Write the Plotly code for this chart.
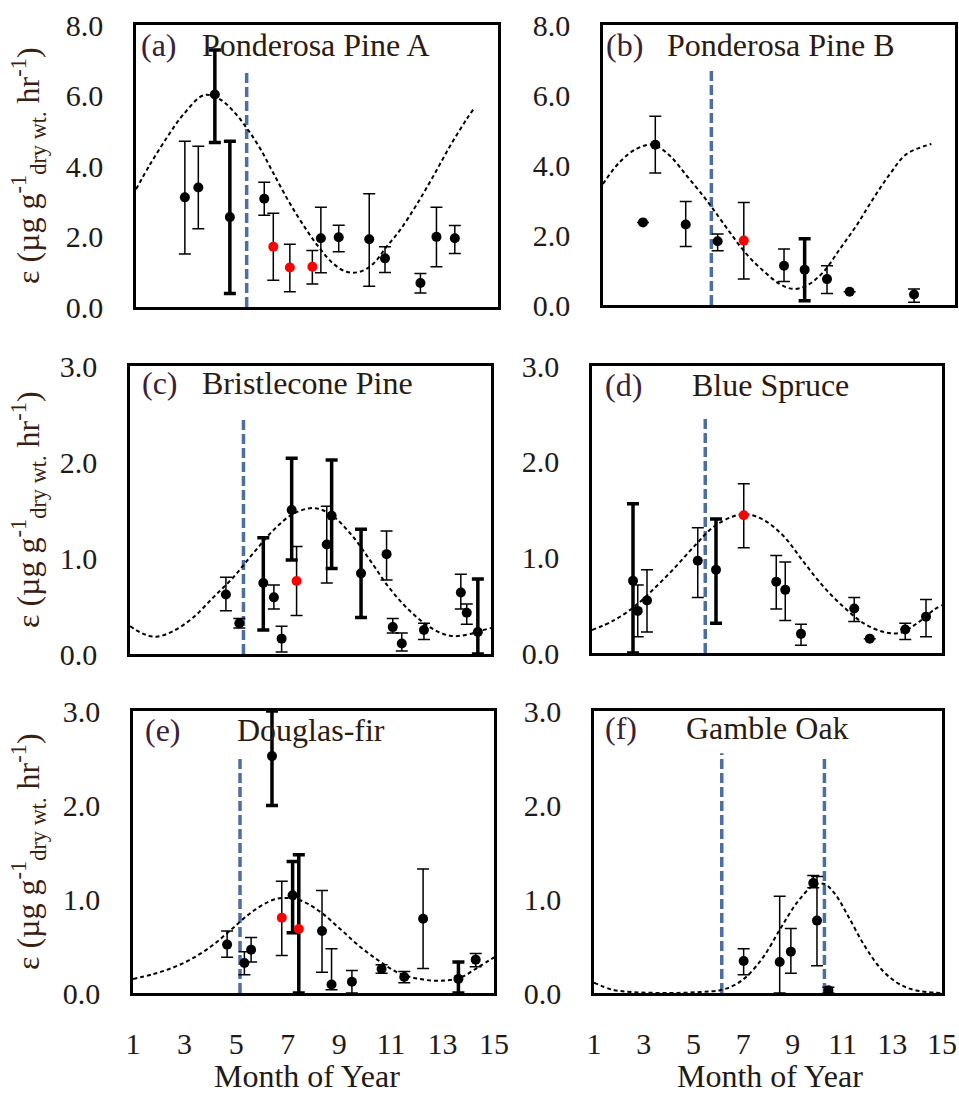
import plotly.graph_objects as go

# ---------------- DATA ----------------
# Panel (a) Ponderosa Pine A
A_MONTH = [2.89, 3.41, 4.05, 4.63, 5.96, 6.31, 6.95, 7.82, 8.15, 8.84, 10.02, 10.63, 12.00, 12.62, 13.33]
A_EPS   = [3.11, 3.39, 6.03, 2.55, 3.07, 1.71, 1.12, 1.14, 1.95, 1.98, 1.92, 1.38, 0.68, 1.99, 1.95]
A_HI    = [4.70, 4.56, 7.29, 4.70, 3.54, 2.66, 1.78, 1.60, 2.83, 2.32, 3.21, 1.71, 0.95, 2.83, 2.31]
A_LO    = [1.50, 2.22, 4.67, 0.38, 2.60, 0.76, 0.43, 0.65, 0.97, 1.57, 0.59, 0.98, 0.40, 1.14, 1.52]
A_RED   = [5, 6, 7]
A_CURVE_X = [1.0, 1.54, 2.19, 2.83, 3.63, 4.25, 4.76, 5.28, 5.79, 6.31, 6.95, 7.60, 8.11, 8.63, 9.14,
             9.66, 10.18, 10.69, 11.21, 11.85, 12.49, 13.14, 13.78, 14.04]
A_CURVE_Y = [3.34, 4.04, 4.80, 5.46, 6.01, 5.89, 5.56, 5.08, 4.51, 3.80, 2.94, 2.18, 1.66, 1.23, 1.00,
             1.00, 1.23, 1.71, 2.18, 2.90, 3.70, 4.56, 5.32, 5.60]
A_VLINE_X = [5.28]
A_VLINE_TOP = [6.65]

# Panel (b) Ponderosa Pine B
B_MONTH = [2.59, 3.08, 4.29, 5.56, 6.60, 8.20, 9.02, 9.91, 10.81, 13.37]
B_EPS   = [2.36, 4.58, 2.30, 1.82, 1.84, 1.12, 1.01, 0.74, 0.38, 0.30]
B_HI    = [2.36, 5.39, 2.96, 2.03, 2.93, 1.60, 1.89, 1.12, 0.38, 0.46]
B_LO    = [2.36, 3.77, 1.67, 1.55, 0.74, 0.67, 0.12, 0.33, 0.38, 0.08]
B_RED   = [4]
B_CURVE_X = [1.0, 1.66, 2.33, 2.99, 3.65, 4.32, 4.98, 5.38, 6.04, 6.70, 7.37, 8.03, 8.56, 9.09, 9.75,
             10.42, 11.08, 11.74, 12.41, 13.07, 14.06]
B_CURVE_Y = [3.46, 4.08, 4.46, 4.58, 4.27, 3.70, 3.12, 2.74, 2.08, 1.46, 0.98, 0.60, 0.46, 0.55, 0.93,
             1.60, 2.27, 3.03, 3.74, 4.31, 4.60]
B_VLINE_X = [5.31]
B_VLINE_TOP = [6.74]

# Panel (c) Bristlecone Pine
C_MONTH = [4.72, 5.24, 6.17, 6.58, 6.88, 7.27, 7.46, 8.63, 8.82, 9.96, 10.95, 11.19, 11.54, 12.40, 13.83, 14.06, 14.49]
C_EPS   = [0.62, 0.32, 0.74, 0.59, 0.16, 1.50, 0.76, 1.14, 1.44, 0.84, 1.04, 0.28, 0.11, 0.25, 0.64, 0.43, 0.23]
C_HI    = [0.80, 0.37, 1.21, 0.72, 0.29, 2.04, 1.12, 1.54, 2.02, 1.30, 1.28, 0.37, 0.22, 0.32, 0.83, 0.52, 0.78]
C_LO    = [0.45, 0.27, 0.25, 0.47, 0.02, 0.98, 0.40, 0.74, 0.89, 0.38, 0.77, 0.22, 0.03, 0.15, 0.47, 0.31, 0.00]
C_RED   = [6]
C_CURVE_X = [1.0, 1.52, 2.03, 2.68, 3.45, 4.23, 5.01, 5.78, 6.56, 7.33, 8.11, 8.75, 9.53, 10.30, 11.08,
             11.85, 12.63, 13.40, 14.05, 14.57, 15.0]
C_CURVE_Y = [0.29, 0.21, 0.18, 0.24, 0.38, 0.59, 0.80, 1.05, 1.29, 1.46, 1.52, 1.46, 1.26, 0.98, 0.68,
             0.45, 0.28, 0.19, 0.20, 0.24, 0.27]
C_VLINE_X = [5.40]
C_VLINE_TOP = [2.44]

# Panel (d) Blue Spruce
D_MONTH = [2.64, 2.83, 3.20, 5.23, 5.96, 7.07, 8.37, 8.73, 9.36, 11.49, 12.11, 13.53, 14.36]
D_EPS   = [0.755, 0.44, 0.55, 0.965, 0.87, 1.44, 0.745, 0.66, 0.20, 0.465, 0.15, 0.245, 0.38]
D_HI    = [1.56, 0.71, 0.87, 1.31, 1.40, 1.77, 1.02, 0.95, 0.30, 0.58, 0.15, 0.31, 0.56]
D_LO    = [0.00, 0.17, 0.22, 0.58, 0.31, 1.10, 0.46, 0.34, 0.08, 0.33, 0.15, 0.14, 0.17]
D_RED   = [5]
D_CURVE_X = [1.0, 1.87, 2.67, 3.47, 4.27, 5.07, 5.87, 6.67, 7.20, 7.87, 8.67, 9.47, 10.27, 11.07, 11.87,
             12.67, 13.33, 14.0, 14.67, 15.0]
D_CURVE_Y = [0.24, 0.34, 0.48, 0.67, 0.88, 1.11, 1.32, 1.43, 1.45, 1.39, 1.22, 0.95, 0.69, 0.48, 0.31,
             0.22, 0.21, 0.31, 0.45, 0.50]
D_VLINE_X = [5.53]
D_VLINE_TOP = [2.47]

# Panel (e) Douglas-fir
E_MONTH = [4.65, 5.32, 5.58, 6.39, 6.77, 7.19, 7.43, 8.33, 8.70, 9.49, 10.64, 11.52, 12.25, 13.62, 14.29]
E_EPS   = [0.515, 0.32, 0.46, 2.52, 0.80, 1.04, 0.68, 0.66, 0.09, 0.12, 0.255, 0.17, 0.79, 0.15, 0.355]
E_HI    = [0.66, 0.44, 0.59, 3.00, 1.19, 1.40, 1.47, 1.09, 0.47, 0.24, 0.30, 0.23, 1.32, 0.33, 0.42]
E_LO    = [0.38, 0.195, 0.33, 1.995, 0.40, 0.64, 0.00, 0.22, 0.035, 0.00, 0.21, 0.11, 0.26, 0.00, 0.28]
E_RED   = [4, 6]
E_CURVE_X = [1.0, 1.77, 2.55, 3.32, 4.10, 4.87, 5.65, 6.42, 6.81, 7.45, 8.23, 9.0, 9.77, 10.55, 11.32,
             12.10, 12.87, 13.65, 14.42, 15.0]
E_CURVE_Y = [0.15, 0.20, 0.27, 0.37, 0.51, 0.69, 0.87, 0.99, 1.01, 0.99, 0.87, 0.69, 0.50, 0.34, 0.21,
             0.15, 0.13, 0.16, 0.28, 0.38]
E_VLINE_X = [5.15]
E_VLINE_TOP = [2.49]

# Panel (f) Gamble Oak
F_MONTH = [7.02, 8.47, 8.92, 9.82, 9.97, 10.43]
F_EPS   = [0.34, 0.33, 0.44, 1.17, 0.77, 0.03]
F_HI    = [0.47, 1.03, 0.685, 1.25, 1.24, 0.06]
F_LO    = [0.195, 0.00, 0.21, 1.12, 0.29, 0.00]
F_RED   = []
F_CURVE_X = [1.0, 1.74, 2.56, 3.91, 5.26, 6.07, 6.62, 7.16, 7.83, 8.51, 9.19, 9.86, 10.27, 10.68, 11.22,
             11.89, 12.57, 13.25, 13.92, 15.0]
F_CURVE_Y = [0.11, 0.035, 0.01, 0.0, 0.01, 0.03, 0.08, 0.18, 0.39, 0.69, 0.97, 1.15, 1.16, 1.06, 0.82,
             0.50, 0.25, 0.10, 0.03, 0.0]
F_VLINE_X = [6.14, 10.27]
F_VLINE_TOP = [2.55, 2.49]

PANEL_TAGS = ["(a)", "(b)", "(c)", "(d)", "(e)", "(f)"]
PANEL_NAMES = ["Ponderosa Pine A", "Ponderosa Pine B", "Bristlecone Pine", "Blue Spruce", "Douglas-fir", "Gamble Oak"]
X_TICKS = [1, 3, 5, 7, 9, 11, 13, 15]
X_TITLE = "Month of Year"
Y_TITLE = "ε (µg g<sup>-1</sup><sub>dry wt.</sub> hr<sup>-1</sup>)"

# ---------------- STYLE / LAYOUT ----------------
W, H = 959, 1097
FONT = "Liberation Serif"
TXT = "#1e1a18"
VCOLOR = "#4a6fa8"

# thick error bars (indices), style only
THICK = {"a": [2, 3], "b": [6], "c": [2, 5, 8, 9, 16], "d": [0, 4], "e": [3, 5, 6, 13], "f": []}

# plot boxes in pixels: (left, top, right, bottom)
BOXES = {
    "a": (136, 25, 498, 307),
    "b": (603, 25, 955, 305),
    "c": (130, 366, 491, 654),
    "d": (592, 366, 942, 653),
    "e": (133, 711, 494, 993),
    "f": (594, 711, 942, 993),
}
YMAX = {"a": 8, "b": 8, "c": 3, "d": 3, "e": 3, "f": 3}
YDT = {"a": 2, "b": 2, "c": 1, "d": 1, "e": 1, "f": 1}

PANELS = {
    "a": (A_MONTH, A_EPS, A_HI, A_LO, A_RED, A_CURVE_X, A_CURVE_Y, A_VLINE_X, A_VLINE_TOP),
    "b": (B_MONTH, B_EPS, B_HI, B_LO, B_RED, B_CURVE_X, B_CURVE_Y, B_VLINE_X, B_VLINE_TOP),
    "c": (C_MONTH, C_EPS, C_HI, C_LO, C_RED, C_CURVE_X, C_CURVE_Y, C_VLINE_X, C_VLINE_TOP),
    "d": (D_MONTH, D_EPS, D_HI, D_LO, D_RED, D_CURVE_X, D_CURVE_Y, D_VLINE_X, D_VLINE_TOP),
    "e": (E_MONTH, E_EPS, E_HI, E_LO, E_RED, E_CURVE_X, E_CURVE_Y, E_VLINE_X, E_VLINE_TOP),
    "f": (F_MONTH, F_EPS, F_HI, F_LO, F_RED, F_CURVE_X, F_CURVE_Y, F_VLINE_X, F_VLINE_TOP),
}

fig = go.Figure()
layout = dict(
    width=W, height=H, autosize=False,
    margin=dict(l=0, r=0, t=0, b=0, autoexpand=False),
    paper_bgcolor="white", plot_bgcolor="white",
    showlegend=False,
    font=dict(family=FONT, color=TXT),
)
annotations = []

for i, key in enumerate(["a", "b", "c", "d", "e", "f"]):
    n = i + 1
    xa = "x" if n == 1 else f"x{n}"
    ya = "y" if n == 1 else f"y{n}"
    xl = "xaxis" if n == 1 else f"xaxis{n}"
    yl = "yaxis" if n == 1 else f"yaxis{n}"
    L, T, R, B = BOXES[key]
    bottom_row = key in ("e", "f")
    layout[xl] = dict(
        domain=[L / W, R / W], anchor=ya, range=[1, 15], automargin=False,
        showline=True, mirror=True, linecolor="black", linewidth=2.5,
        showgrid=False, zeroline=False, ticks="",
        tickmode="array", tickvals=X_TICKS, ticktext=[str(v) for v in X_TICKS],
        showticklabels=bottom_row, tickfont=dict(family=FONT, size=30, color=TXT),
        ticklabelstandoff=22,
    )
    layout[yl] = dict(
        domain=[1 - B / H, 1 - T / H], anchor=xa, range=[0, YMAX[key]], automargin=False,
        showline=True, mirror=True, linecolor="black", linewidth=2.5,
        showgrid=False, zeroline=False, ticks="",
        tick0=0, dtick=YDT[key], tickformat=".1f",
        tickfont=dict(family=FONT, size=30, color=TXT),
        ticklabelstandoff=24,
    )
    mx, my, hi, lo, red, cx, cy, vx, vtop = PANELS[key]

    # vertical dashed lines
    for x0, top in zip(vx, vtop):
        fig.add_trace(go.Scatter(x=[x0, x0], y=[0, top], mode="lines", xaxis=xa, yaxis=ya,
                                 line=dict(color=VCOLOR, width=3.5, dash="10px,4px"),
                                 hoverinfo="skip"))
    # fitted curve
    fig.add_trace(go.Scatter(x=cx, y=cy, mode="lines", xaxis=xa, yaxis=ya,
                             line=dict(color="black", width=2, dash="4px,3px", shape="spline", smoothing=1.0),
                             hoverinfo="skip"))
    # points with error bars (thin then thick)
    for thick in (False, True):
        idx = [j for j in range(len(mx)) if (j in THICK[key]) == thick]
        if not idx:
            continue
        fig.add_trace(go.Scatter(
            x=[mx[j] for j in idx], y=[my[j] for j in idx], mode="markers",
            xaxis=xa, yaxis=ya,
            marker=dict(size=10, color=["red" if j in red else "black" for j in idx], line=dict(width=0)),
            error_y=dict(type="data", symmetric=False,
                         array=[hi[j] - my[j] for j in idx],
                         arrayminus=[my[j] - lo[j] for j in idx],
                         color="black", thickness=3.5 if thick else 1.5, width=6),
        ))

# panel titles
TAG_POS = {"a": (139, 45), "b": (604, 45), "c": (140, 383), "d": (603, 385), "e": (143, 730), "f": (603, 728)}
NAME_POS = {"a": (200, 45), "b": (665, 45), "c": (200, 383), "d": (690, 385), "e": (235, 730), "f": (684, 728)}
for i, key in enumerate(["a", "b", "c", "d", "e", "f"]):
    tx, ty = TAG_POS[key]
    nx, ny = NAME_POS[key]
    annotations.append(dict(x=tx / W, y=1 - ty / H, xref="paper", yref="paper", xanchor="left", yanchor="middle",
                            text=PANEL_TAGS[i], showarrow=False, font=dict(family=FONT, size=32, color="#3a2038")))
    annotations.append(dict(x=nx / W, y=1 - ny / H, xref="paper", yref="paper", xanchor="left", yanchor="middle",
                            text=PANEL_NAMES[i], showarrow=False, font=dict(family=FONT, size=32, color="#2a1a10")))

# y-axis titles (one per row, left column)
for cy_px in (166, 510, 852):
    annotations.append(dict(x=28 / W, y=1 - cy_px / H, xref="paper", yref="paper", xanchor="center",
                            yanchor="middle", textangle=-90, text=Y_TITLE, showarrow=False,
                            font=dict(family=FONT, size=32, color="#3a2010")))
# x-axis titles
for cx_px in (307, 770):
    annotations.append(dict(x=cx_px / W, y=1 - 1096 / H, xref="paper", yref="paper", xanchor="center",
                            yanchor="bottom", text=X_TITLE, showarrow=False,
                            font=dict(family=FONT, size=32, color=TXT)))

layout["annotations"] = annotations
fig.update_layout(**layout)
fig.write_html("out.html")
